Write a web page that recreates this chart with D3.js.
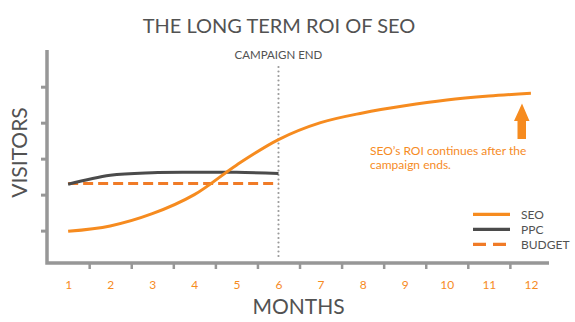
<!DOCTYPE html>
<html>
<head>
<meta charset="utf-8">
<script src="https://cdn.jsdelivr.net/npm/d3@7/dist/d3.min.js"></script>
<style>
  html, body { margin: 0; padding: 0; background: #fff; }
  svg { display: block; }
  text { font-family: Lato, "Open Sans", sans-serif; }
</style>
</head>
<body>
<div id="chart"></div>
<script>
// ---- data ----
const months = [1, 2, 3, 4, 5, 6, 7, 8, 9, 10, 11, 12];
const seoValues = [0.98, 1.13, 1.47, 2.00, 2.82, 3.53, 4.00, 4.27, 4.47, 4.63, 4.74, 4.82];
const ppcMonths = [1, 2, 3, 4, 5, 6];
const ppcValues = [2.29, 2.54, 2.61, 2.62, 2.62, 2.59];
const budgetMonths = [1, 6];
const budgetValues = [2.31, 2.31];
const yTickValues = [1, 2, 3, 4, 5];
const campaignEndMonth = 6;
const title = "THE LONG TERM ROI OF SEO";
const legendLabels = ["SEO", "PPC", "BUDGET"];
const annotationLines = ["SEO\u2019s ROI continues after the", "campaign ends."];

const W = 575, H = 322;
const ORANGE = "#f68b1f", BUDGET = "#f07b27", DARK = "#4b4b4b", AXIS = "#979797", TEXT = "#525252";

const svg = d3.select("#chart").append("svg").attr("width", W).attr("height", H);

const x = d3.scaleLinear().domain([0.45, 12.43]).range([45, 549]);
const y = d3.scaleLinear().domain([0.1, 6.02]).range([263, 50]);

// title
svg.append("text").attr("x", 279).attr("y", 33).attr("text-anchor", "middle")
  .attr("font-size", 20).attr("fill", TEXT).text(title);

// axis lines
svg.append("path")
  .attr("d", `M${x.range()[0] + 2},${y.range()[1]} V${y.range()[0]} H${x.range()[1]}`)
  .attr("fill", "none").attr("stroke", AXIS).attr("stroke-width", 3.5);

// y ticks
const yAxis = d3.axisLeft(y).tickValues(yTickValues).tickSize(6).tickFormat("");
const gy = svg.append("g").attr("transform", `translate(${x.range()[0] + 2},0)`).call(yAxis);
gy.select(".domain").remove();
gy.selectAll(".tick line").attr("stroke", AXIS).attr("stroke-width", 3);

// x tick marks at half months
const xTickMarks = d3.axisBottom(x).tickValues(months.slice(0, -1).map(m => m + 0.5)).tickSize(6).tickFormat("");
const gxt = svg.append("g").attr("transform", `translate(0,${y.range()[0]})`).call(xTickMarks);
gxt.select(".domain").remove();
gxt.selectAll(".tick line").attr("stroke", AXIS).attr("stroke-width", 2.5);

// x labels
const xLabels = d3.axisBottom(x).tickValues(months).tickSize(0).tickPadding(17);
const gxl = svg.append("g").attr("transform", `translate(0,${y.range()[0]})`).call(xLabels);
gxl.select(".domain").remove();
gxl.selectAll(".tick text").attr("fill", ORANGE).attr("font-size", 12)
  .attr("font-family", "Lato, 'Open Sans', sans-serif");

// axis titles
svg.append("text").attr("x", 298.5).attr("y", 314).attr("text-anchor", "middle")
  .attr("font-size", 21).attr("fill", TEXT).text("MONTHS");
svg.append("text").attr("transform", "translate(27,152.5) rotate(-90)").attr("text-anchor", "middle")
  .attr("font-size", 21).attr("fill", TEXT).text("VISITORS");

// campaign end line
svg.append("line").attr("x1", x(campaignEndMonth)).attr("x2", x(campaignEndMonth))
  .attr("y1", 67).attr("y2", 259)
  .attr("stroke", "#9a9a9a").attr("stroke-width", 2.2).attr("stroke-linecap", "round")
  .attr("stroke-dasharray", "0,4.5");
svg.append("text").attr("x", x(campaignEndMonth)).attr("y", 58.5).attr("text-anchor", "middle")
  .attr("font-size", 11.5).attr("fill", TEXT).text("CAMPAIGN END");

// lines
const line = d3.line().x(d => x(d[0])).y(d => y(d[1])).curve(d3.curveCatmullRom.alpha(0.5));
svg.append("path").datum(budgetMonths.map((m, i) => [m, budgetValues[i]]))
  .attr("d", line).attr("fill", "none").attr("stroke", BUDGET).attr("stroke-width", 3)
  .attr("stroke-dasharray", "10,5");
svg.append("path").datum(ppcMonths.map((m, i) => [m, ppcValues[i]]))
  .attr("d", line).attr("fill", "none").attr("stroke", DARK).attr("stroke-width", 3);
svg.append("path").datum(months.map((m, i) => [m, seoValues[i]]))
  .attr("d", line).attr("fill", "none").attr("stroke", ORANGE).attr("stroke-width", 3);

// arrow
const ax = 522;
svg.append("path")
  .attr("d", `M${ax},103.5 L${ax + 7.5},121 L${ax + 4},121 L${ax + 4},139 L${ax - 4.5},139 L${ax - 4.5},121 L${ax - 8},121 Z`)
  .attr("fill", ORANGE);

// annotation
const ann = svg.append("text").attr("x", 370).attr("y", 155).attr("font-size", 12).attr("fill", ORANGE);
annotationLines.forEach((t, i) => ann.append("tspan").attr("x", 370).attr("dy", i ? 14.3 : 0).text(t));

// legend
const legendStyles = [
  { color: ORANGE, dash: null },
  { color: DARK, dash: null },
  { color: BUDGET, dash: "13,7" }
];
legendLabels.forEach((lab, i) => {
  const ly = 214.3 + i * 15;
  svg.append("line").attr("x1", 473).attr("x2", 510).attr("y1", ly).attr("y2", ly)
    .attr("stroke", legendStyles[i].color).attr("stroke-width", 3.2)
    .attr("stroke-dasharray", legendStyles[i].dash);
  svg.append("text").attr("x", 521).attr("y", ly + 4.3).attr("font-size", 12)
    .attr("fill", TEXT).text(lab);
});
</script>
</body>
</html>
